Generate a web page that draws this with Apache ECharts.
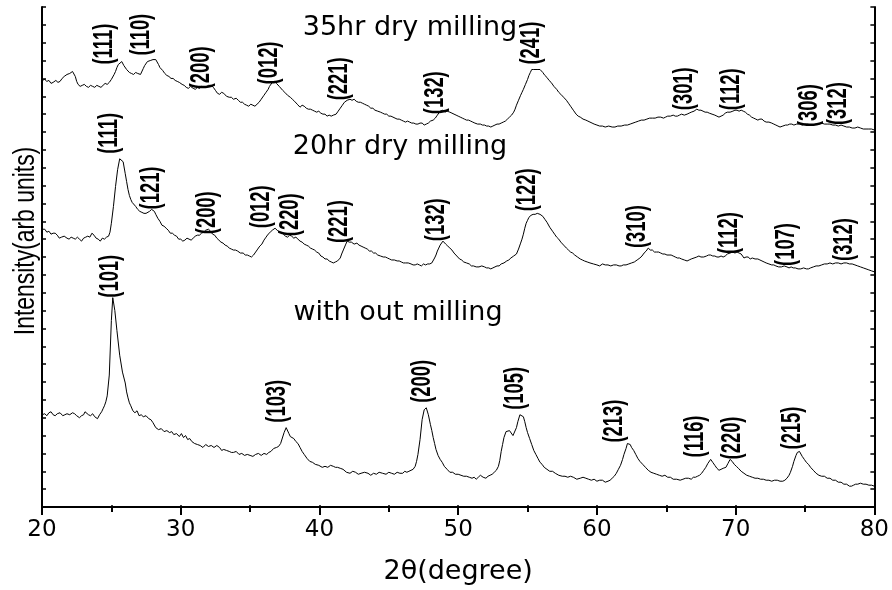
<!DOCTYPE html>
<html>
<head>
<meta charset="utf-8">
<title>XRD milling</title>
<script src="https://cdn.jsdelivr.net/npm/echarts@6/dist/echarts.min.js"></script>
<style>
    html, body { margin: 0; padding: 0; background: #fff; }
    #xrdChart { width: 892px; height: 590px; }
</style>
</head>
<body>
<div id="xrdChart"></div>
<script>
// [2θ, intensity] (arb. units, 0 = bottom of frame)
var noMilling = [
    [20.0,93],[20.1,95],[20.2,94],[20.35,92],[20.5,95],[20.65,96],[20.8,93],[20.95,92],[21.1,94],[21.3,95],
    [21.5,92],[21.65,93],[21.8,94],[22.0,93],[22.2,95],[22.35,94],[22.5,92],[22.6,94],[22.7,90],[22.85,92],
    [23.0,93],[23.1,96],[23.2,95],[23.35,93],[23.5,92],[23.65,94],[23.8,91],[23.9,92],[24.0,89],[24.15,93],
    [24.3,96],[24.4,99],[24.5,102],[24.6,106],[24.7,112],[24.85,133],[25.0,188],[25.1,211],[25.25,198],[25.4,178],
    [25.6,153],[25.8,136],[26.0,125],[26.1,116],[26.2,110],[26.3,105],[26.4,102],[26.55,97],[26.7,95],[26.85,97],
    [27.0,92],[27.15,93],[27.3,91],[27.5,92],[27.7,89],[27.85,88],[28.0,85],[28.2,80],[28.4,78],[28.6,79],
    [28.8,76],[29.0,77],[29.2,75],[29.35,76],[29.5,73],[29.7,74],[29.9,71],[30.05,74],[30.2,70],[30.35,72],
    [30.5,68],[30.65,69],[30.8,66],[31.0,64],[31.2,63],[31.4,62],[31.6,60],[31.8,63],[32.0,61],[32.2,62],
    [32.4,60],[32.6,62],[32.8,60],[32.95,57],[33.1,58],[33.3,57],[33.5,56],[33.65,55],[33.8,55],[34.0,56],
    [34.2,53],[34.4,54],[34.6,52],[34.8,53],[35.0,52],[35.2,51],[35.4,53],[35.6,54],[35.8,52],[36.0,54],
    [36.2,53],[36.35,55],[36.5,56],[36.7,59],[36.9,60],[37.05,61],[37.2,64],[37.45,75],[37.6,80],[37.8,74],
    [37.9,71],[38.0,70],[38.15,69],[38.3,66],[38.45,64],[38.6,60],[38.75,56],[38.9,53],[39.1,49],[39.3,46],
    [39.5,45],[39.7,43],[39.95,42],[40.2,40],[40.4,41],[40.6,40],[40.8,42],[41.0,41],[41.15,40],[41.3,40],
    [41.5,39],[41.7,38],[41.95,35],[42.2,34],[42.4,36],[42.6,35],[42.8,33],[43.0,34],[43.25,35],[43.5,34],
    [43.7,32],[43.9,34],[44.1,33],[44.3,35],[44.55,34],[44.8,33],[45.0,35],[45.2,34],[45.4,33],[45.6,35],
    [45.8,34],[46.0,34],[46.15,36],[46.3,35],[46.45,36],[46.6,37],[46.75,38],[46.9,41],[47.0,46],[47.1,53],
    [47.25,68],[47.4,88],[47.55,98],[47.7,100],[47.85,93],[48.0,83],[48.1,77],[48.2,70],[48.3,64],[48.4,58],
    [48.55,52],[48.7,48],[48.85,45],[49.0,41],[49.2,38],[49.4,35],[49.6,35],[49.8,33],[50.0,33],[50.2,32],
    [50.4,31],[50.6,31],[50.8,30],[51.0,29],[51.15,30],[51.3,28],[51.45,30],[51.6,32],[51.8,30],[52.0,29],
    [52.15,31],[52.3,32],[52.45,33],[52.6,35],[52.75,37],[52.9,41],[53.0,47],[53.1,56],[53.2,63],[53.3,70],
    [53.45,76],[53.55,78],[53.7,77],[53.8,75],[53.95,72],[54.05,73],[54.2,80],[54.3,86],[54.45,93],[54.55,95],
    [54.7,91],[54.8,86],[54.9,80],[55.0,75],[55.15,69],[55.3,63],[55.45,57],[55.6,53],[55.75,49],[55.9,45],
    [56.05,43],[56.2,40],[56.4,38],[56.6,36],[56.8,36],[57.0,34],[57.25,32],[57.5,31],[57.7,31],[57.9,30],
    [58.1,31],[58.3,30],[58.55,28],[58.8,29],[59.0,30],[59.2,29],[59.4,28],[59.6,27],[59.8,28],[60.0,26],
    [60.2,27],[60.4,27],[60.6,25],[60.8,26],[60.95,27],[61.1,29],[61.25,31],[61.4,34],[61.55,38],[61.7,42],
    [61.85,48],[61.95,53],[62.1,59],[62.2,64],[62.3,65],[62.4,63],[62.5,60],[62.65,57],[62.8,53],[62.95,49],
    [63.1,46],[63.3,43],[63.5,40],[63.7,37],[63.9,35],[64.1,34],[64.3,33],[64.5,32],[64.7,31],[64.9,32],
    [65.1,30],[65.3,30],[65.5,28],[65.75,28],[66.0,27],[66.2,28],[66.4,29],[66.6,29],[66.8,28],[66.95,30],
    [67.1,30],[67.25,31],[67.4,32],[67.55,34],[67.7,37],[67.85,40],[68.0,44],[68.1,46],[68.2,48],[68.35,45],
    [68.5,42],[68.65,39],[68.8,37],[68.95,38],[69.1,39],[69.2,39],[69.3,40],[69.45,44],[69.6,48],[69.75,46],
    [69.9,43],[70.05,41],[70.2,39],[70.4,36],[70.6,34],[70.8,32],[71.0,31],[71.2,30],[71.4,29],[71.6,29],
    [71.8,28],[72.0,28],[72.2,27],[72.4,27],[72.6,26],[72.8,27],[73.0,27],[73.2,26],[73.4,26],[73.55,27],
    [73.7,29],[73.85,32],[73.95,35],[74.1,41],[74.2,46],[74.35,52],[74.45,55],[74.6,56],[74.7,54],[74.8,51],
    [74.95,48],[75.1,45],[75.25,43],[75.4,40],[75.6,37],[75.8,34],[76.0,32],[76.2,31],[76.4,31],[76.6,29],
    [76.8,29],[77.0,27],[77.2,27],[77.4,25],[77.6,25],[77.8,23],[78.0,23],[78.2,21],[78.35,21],[78.5,22],
    [78.65,23],[78.8,23],[79.0,24],[79.2,23],[79.4,23],[79.6,22],[79.8,22],[80.0,21]
]
var dryMill20 = [
    [20.0,280],[20.1,281],[20.2,280],[20.35,277],[20.5,278],[20.65,275],[20.8,276],[20.95,276],[21.1,274],[21.25,271],
    [21.4,272],[21.6,273],[21.8,271],[21.95,270],[22.1,272],[22.25,271],[22.4,270],[22.55,272],[22.7,270],[22.85,268],
    [23.0,271],[23.15,272],[23.3,273],[23.45,272],[23.6,276],[23.75,274],[23.9,271],[24.05,270],[24.2,268],[24.35,271],
    [24.5,270],[24.65,272],[24.8,273],[24.9,277],[25.0,286],[25.15,303],[25.3,323],[25.45,340],[25.6,351],[25.7,353],
    [25.85,348],[26.0,336],[26.1,328],[26.2,320],[26.3,314],[26.4,310],[26.5,307],[26.6,305],[26.75,303],[26.9,300],
    [27.05,298],[27.2,297],[27.35,296],[27.5,296],[27.6,298],[27.75,298],[27.9,300],[28.0,300],[28.1,298],[28.2,295],
    [28.35,291],[28.5,288],[28.65,284],[28.8,283],[28.95,281],[29.1,279],[29.25,276],[29.4,276],[29.55,274],[29.7,273],
    [29.85,270],[30.0,270],[30.15,268],[30.3,269],[30.45,271],[30.6,270],[30.75,269],[30.9,271],[31.05,273],[31.2,274],
    [31.35,274],[31.5,276],[31.65,277],[31.8,279],[31.9,279],[32.0,280],[32.15,278],[32.3,275],[32.45,274],[32.6,271],
    [32.75,269],[32.9,267],[33.05,266],[33.2,264],[33.35,263],[33.5,261],[33.65,260],[33.8,259],[33.95,259],[34.1,258],
    [34.3,256],[34.5,256],[34.65,254],[34.8,254],[34.95,253],[35.1,252],[35.25,254],[35.4,257],[35.55,260],[35.7,263],
    [35.85,265],[36.0,269],[36.15,272],[36.3,275],[36.45,277],[36.6,279],[36.7,280],[36.8,281],[36.95,279],[37.1,277],
    [37.25,277],[37.4,275],[37.55,273],[37.7,272],[37.85,274],[38.0,273],[38.15,271],[38.3,272],[38.45,270],[38.6,268],
    [38.75,267],[38.9,265],[39.05,264],[39.2,263],[39.35,261],[39.5,260],[39.65,259],[39.8,257],[39.95,256],[40.1,253],
    [40.25,252],[40.4,250],[40.55,250],[40.7,248],[40.85,247],[41.0,246],[41.15,247],[41.3,248],[41.4,249],[41.5,251],
    [41.6,255],[41.75,260],[41.9,265],[42.0,268],[42.15,267],[42.3,267],[42.5,265],[42.7,266],[42.85,264],[43.0,263],
    [43.15,262],[43.3,261],[43.45,260],[43.6,258],[43.75,258],[43.9,256],[44.05,256],[44.2,254],[44.4,253],[44.6,252],
    [44.75,252],[44.9,251],[45.05,250],[45.2,249],[45.4,249],[45.6,248],[45.75,248],[45.9,247],[46.05,246],[46.2,246],
    [46.4,246],[46.6,245],[46.75,244],[46.9,244],[47.05,245],[47.2,244],[47.35,243],[47.5,245],[47.65,244],[47.8,245],
    [47.95,245],[48.1,246],[48.2,248],[48.3,251],[48.4,254],[48.5,258],[48.6,261],[48.7,264],[48.8,266],[48.9,268],
    [49.0,267],[49.1,265],[49.25,263],[49.4,261],[49.55,259],[49.7,256],[49.9,253],[50.1,250],[50.25,249],[50.4,247],
    [50.6,246],[50.8,245],[50.95,243],[51.1,243],[51.3,242],[51.5,242],[51.7,243],[51.9,242],[52.05,241],[52.2,241],
    [52.35,240],[52.5,241],[52.65,242],[52.8,243],[52.95,243],[53.1,245],[53.3,246],[53.5,248],[53.65,249],[53.8,251],
    [54.0,253],[54.2,255],[54.35,260],[54.5,266],[54.6,270],[54.7,275],[54.8,281],[54.9,286],[55.0,289],[55.1,292],
    [55.25,294],[55.4,295],[55.55,295],[55.7,296],[55.8,295],[55.9,295],[56.0,294],[56.1,293],[56.25,290],[56.4,287],
    [56.6,282],[56.8,278],[56.95,275],[57.1,272],[57.25,270],[57.4,267],[57.6,264],[57.8,261],[57.95,259],[58.1,257],
    [58.25,256],[58.4,254],[58.6,252],[58.8,250],[58.95,249],[59.1,248],[59.3,247],[59.5,246],[59.75,245],[60.0,244],
    [60.2,243],[60.4,245],[60.6,244],[60.8,244],[61.0,243],[61.2,244],[61.4,244],[61.6,243],[61.75,243],[61.9,244],
    [62.1,244],[62.3,245],[62.5,246],[62.7,247],[62.9,249],[63.1,251],[63.25,253],[63.4,256],[63.55,258],[63.7,261],
    [63.85,259],[64.0,259],[64.15,257],[64.3,257],[64.45,257],[64.6,256],[64.75,255],[64.9,255],[65.05,254],[65.2,254],
    [65.35,254],[65.5,253],[65.65,252],[65.8,251],[65.95,251],[66.1,250],[66.3,249],[66.5,248],[66.65,249],[66.8,250],
    [67.0,251],[67.2,252],[67.35,253],[67.5,252],[67.7,252],[67.9,253],[68.05,254],[68.2,254],[68.35,253],[68.5,253],
    [68.65,252],[68.8,252],[68.95,253],[69.1,252],[69.25,253],[69.4,255],[69.6,256],[69.8,257],[69.95,256],[70.1,257],
    [70.25,256],[70.4,255],[70.5,253],[70.6,251],[70.75,252],[70.9,252],[71.05,250],[71.2,251],[71.4,250],[71.6,250],
    [71.75,249],[71.9,248],[72.05,247],[72.2,246],[72.4,245],[72.6,244],[72.75,244],[72.9,243],[73.1,242],[73.3,242],
    [73.5,243],[73.7,242],[73.85,241],[74.0,242],[74.15,241],[74.3,241],[74.5,240],[74.7,240],[74.9,241],[75.1,240],
    [75.25,240],[75.4,241],[75.6,242],[75.8,243],[76.0,243],[76.2,244],[76.4,245],[76.6,245],[76.8,246],[77.0,245],
    [77.2,246],[77.4,246],[77.6,245],[77.8,246],[78.0,246],[78.2,245],[78.4,245],[78.6,244],[78.8,243],[79.0,242],
    [79.2,241],[79.4,240],[79.6,239],[79.8,238],[80.0,237]
]
var dryMill35 = [
    [20.0,430],[20.1,432],[20.2,431],[20.35,429],[20.5,430],[20.65,427],[20.8,428],[20.9,430],[21.0,430],[21.15,428],
    [21.3,429],[21.45,432],[21.6,434],[21.7,433],[21.8,436],[21.9,435],[22.0,437],[22.1,436],[22.2,439],[22.3,437],
    [22.4,434],[22.5,429],[22.6,426],[22.75,424],[22.9,425],[23.05,426],[23.2,424],[23.35,423],[23.5,425],[23.65,424],
    [23.8,423],[23.95,425],[24.1,424],[24.25,423],[24.4,425],[24.55,427],[24.7,426],[24.85,428],[25.0,431],[25.1,433],
    [25.2,436],[25.3,439],[25.4,443],[25.5,446],[25.6,448],[25.75,449],[25.9,445],[26.0,443],[26.1,441],[26.2,439],
    [26.3,438],[26.45,437],[26.6,436],[26.75,438],[26.9,437],[27.0,435],[27.1,436],[27.2,438],[27.3,442],[27.4,445],
    [27.5,447],[27.6,449],[27.7,451],[27.8,450],[27.9,452],[28.0,451],[28.1,453],[28.2,451],[28.3,449],[28.4,446],
    [28.5,443],[28.6,441],[28.7,440],[28.85,437],[29.0,435],[29.15,434],[29.3,432],[29.45,432],[29.6,430],[29.75,429],
    [29.9,428],[30.0,427],[30.1,426],[30.25,425],[30.4,423],[30.55,422],[30.7,424],[30.8,423],[30.9,422],[31.05,421],
    [31.2,423],[31.35,422],[31.5,424],[31.65,423],[31.8,423],[31.9,424],[32.0,425],[32.1,426],[32.2,425],[32.35,423],
    [32.5,420],[32.65,417],[32.8,416],[32.95,418],[33.1,417],[33.3,414],[33.5,413],[33.65,413],[33.8,411],[33.9,413],
    [34.0,412],[34.15,410],[34.3,408],[34.45,408],[34.6,406],[34.75,405],[34.9,404],[35.05,406],[35.2,405],[35.35,404],
    [35.5,406],[35.65,408],[35.8,411],[35.9,413],[36.0,415],[36.15,418],[36.3,421],[36.4,424],[36.5,426],[36.6,428],
    [36.75,429],[36.9,427],[37.0,425],[37.1,424],[37.2,422],[37.35,420],[37.5,418],[37.7,415],[37.9,413],[38.05,411],
    [38.2,409],[38.4,406],[38.6,403],[38.75,405],[38.9,404],[39.05,402],[39.2,401],[39.35,401],[39.5,400],[39.65,399],
    [39.8,398],[39.95,399],[40.1,397],[40.25,396],[40.4,396],[40.55,394],[40.7,395],[40.85,394],[41.0,395],[41.1,396],
    [41.2,396],[41.35,399],[41.5,402],[41.65,405],[41.8,408],[41.9,409],[42.0,410],[42.1,409],[42.2,411],[42.35,410],
    [42.5,411],[42.65,409],[42.8,408],[42.95,408],[43.1,407],[43.25,406],[43.4,405],[43.55,404],[43.7,402],[43.85,402],
    [44.0,400],[44.2,399],[44.4,398],[44.55,397],[44.7,396],[44.85,396],[45.0,394],[45.15,394],[45.3,393],[45.45,392],
    [45.6,391],[45.75,391],[45.9,390],[46.05,389],[46.2,388],[46.35,389],[46.5,388],[46.65,387],[46.8,387],[46.95,386],
    [47.1,386],[47.25,387],[47.4,387],[47.55,385],[47.7,386],[47.85,387],[48.0,389],[48.1,389],[48.2,390],[48.35,392],
    [48.5,395],[48.6,397],[48.7,399],[48.8,400],[48.9,400],[49.05,398],[49.2,399],[49.3,398],[49.4,398],[49.55,397],
    [49.7,396],[49.85,395],[50.0,394],[50.15,393],[50.3,392],[50.45,391],[50.6,390],[50.75,390],[50.9,389],[51.05,388],
    [51.2,387],[51.4,386],[51.6,386],[51.75,385],[51.9,385],[52.05,384],[52.2,384],[52.35,383],[52.5,384],[52.65,385],
    [52.8,386],[52.95,386],[53.1,387],[53.25,388],[53.4,389],[53.55,391],[53.7,393],[53.85,395],[54.0,398],[54.1,401],
    [54.2,405],[54.35,410],[54.5,415],[54.6,418],[54.7,421],[54.85,426],[55.0,431],[55.1,435],[55.2,438],[55.3,441],
    [55.35,442],[55.45,441],[55.55,442],[55.6,442],[55.75,441],[55.9,441],[56.0,439],[56.1,438],[56.25,435],[56.4,433],
    [56.55,430],[56.7,428],[56.9,424],[57.1,421],[57.25,418],[57.4,416],[57.6,413],[57.8,410],[57.95,407],[58.1,404],
    [58.3,400],[58.5,396],[58.65,394],[58.8,393],[59.0,391],[59.2,390],[59.35,389],[59.5,388],[59.65,387],[59.8,386],
    [60.0,385],[60.2,384],[60.4,384],[60.6,383],[60.85,384],[61.1,383],[61.3,383],[61.5,384],[61.75,384],[62.0,385],
    [62.2,385],[62.4,386],[62.6,387],[62.8,388],[63.0,389],[63.2,390],[63.4,390],[63.6,391],[63.8,392],[64.0,392],
    [64.2,392],[64.4,393],[64.6,393],[64.8,392],[64.95,393],[65.1,394],[65.3,394],[65.5,395],[65.65,394],[65.8,394],
    [65.95,395],[66.1,396],[66.3,395],[66.5,396],[66.65,397],[66.8,398],[67.0,399],[67.2,401],[67.35,400],[67.5,400],
    [67.65,399],[67.8,398],[67.95,398],[68.1,397],[68.3,396],[68.5,395],[68.65,394],[68.8,393],[68.95,394],[69.1,395],
    [69.25,397],[69.4,398],[69.6,398],[69.8,399],[69.95,400],[70.1,400],[70.25,399],[70.4,400],[70.55,399],[70.7,398],
    [70.85,396],[71.0,395],[71.15,393],[71.3,392],[71.45,391],[71.6,390],[71.75,391],[71.9,391],[72.05,389],[72.2,388],
    [72.4,388],[72.6,387],[72.75,386],[72.9,385],[73.05,384],[73.2,383],[73.4,384],[73.6,385],[73.75,385],[73.9,386],
    [74.05,386],[74.2,385],[74.4,386],[74.6,386],[74.8,385],[75.0,386],[75.2,386],[75.4,385],[75.6,385],[75.8,386],
    [76.0,386],[76.2,387],[76.4,386],[76.6,386],[76.8,386],[77.0,385],[77.2,385],[77.4,384],[77.6,385],[77.8,384],
    [78.0,383],[78.2,383],[78.4,382],[78.6,382],[78.8,383],[79.0,382],[79.2,381],[79.4,381],[79.6,381],[79.8,381],
    [80.0,380]
]

// (hkl) marks: [2θ, intensity at the foot of the label, text]
var noMillingHkl = [
    [24.97,211,'(101)'],[37.0,85,'(103)'],[47.45,105,'(200)'],[54.15,98,'(105)'],
    [61.28,65,'(213)'],[67.12,50,'(116)'],[69.78,48,'(220)'],[74.11,58,'(215)']
]
var dryMill20Hkl = [
    [24.9,356,'(111)'],[27.93,300,'(121)'],[31.96,275,'(200)'],[35.85,281,'(012)'],
    [37.94,273,'(220)'],[41.47,266,'(221)'],[48.46,268,'(132)'],[55.01,298,'(122)'],
    [62.94,261,'(310)'],[69.57,255,'(112)'],[73.67,243,'(107)'],[77.85,248,'(312)']
]
var dryMill35Hkl = [
    [24.54,446,'(111)'],[27.2,455,'(110)'],[31.53,421,'(200)'],[36.43,426,'(012)'],
    [41.47,410,'(221)'],[48.39,396,'(132)'],[55.3,446,'(241)'],[66.33,400,'(301)'],
    [69.71,400,'(112)'],[75.33,383,'(306)'],[77.42,385,'(312)']
]

var sampleNames = ['with out milling', '20hr dry milling', '35hr dry milling']

;(function () {
    var chart = echarts.init(document.getElementById('xrdChart'))
    var hFont = 'DejaVu Sans' // horizontal text in the picture is wide
    var vFont = 'Liberation Sans' // rotated text is squeezed, done with scaleX

    var traceStyle = function (data) { // one XRD pattern
        return {
            type: 'line',
            data: data,
            showSymbol: false,
            symbol: 'none',
            silent: true,
            lineStyle: { color: '#000', width: 1 },
        }
    }

    var sampleTitle = function (name, x, y) { // text over each pattern
        return {
            type: 'text',
            x: x,
            y: y,
            style: {
                text: name,
                fontFamily: hFont,
                fontSize: 27,
                fill: '#000',
                align: 'center',
                verticalAlign: 'middle',
            },
        }
    }

    var hklMarks = noMillingHkl.concat(dryMill20Hkl, dryMill35Hkl)

    var sideAxis = { // frame lines on top / right
        show: true,
        lineStyle: { color: '#000', width: 2 },
    }

    var option = {
        animation: false,
        backgroundColor: '#fff',
        grid: { left: 42, right: 17, top: 7, bottom: 82 },
        xAxis: [
            {
                type: 'value',
                min: 20,
                max: 80,
                interval: 10,
                name: '2θ(degree)',
                nameLocation: 'middle',
                nameGap: 51,
                nameTextStyle: { fontFamily: hFont, fontSize: 27, color: '#000' },
                axisLine: { show: true, onZero: false, lineStyle: { color: '#000', width: 2 } },
                axisTick: { inside: false, length: 8, lineStyle: { color: '#000', width: 2 } },
                minorTick: { show: true, splitNumber: 2, length: 5, lineStyle: { color: '#000', width: 2 } },
                axisLabel: { margin: 12, fontFamily: hFont, fontSize: 23, color: '#000' },
                splitLine: { show: false },
            },
            {
                type: 'value',
                position: 'top',
                min: 20,
                max: 80,
                interval: 5,
                axisLine: sideAxis,
                axisTick: { inside: false, length: 2, lineStyle: { color: '#000', width: 1.5 } },
                axisLabel: { show: false },
                splitLine: { show: false },
            },
        ],
        yAxis: [
            {
                type: 'value',
                min: 0,
                max: 504,
                interval: 18,
                axisLine: { show: true, lineStyle: { color: '#000', width: 2 } },
                axisTick: { inside: true, length: 4, lineStyle: { color: '#000', width: 1.5 } },
                axisLabel: { show: false },
                splitLine: { show: false },
            },
            {
                type: 'value',
                position: 'right',
                min: 0,
                max: 504,
                interval: 18,
                axisLine: sideAxis,
                axisTick: { inside: true, length: 4, lineStyle: { color: '#000', width: 1.5 } },
                axisLabel: { show: false },
                splitLine: { show: false },
            },
        ],
        graphic: [
            { // y axis title, squeezed like the original
                type: 'text',
                x: 26,
                y: 241,
                rotation: Math.PI / 2,
                scaleX: 0.79,
                style: {
                    text: 'Intensity(arb units)',
                    fontFamily: vFont,
                    fontSize: 29,
                    fill: '#000',
                    align: 'center',
                    verticalAlign: 'middle',
                },
            },
            sampleTitle(sampleNames[2], 410, 28),
            sampleTitle(sampleNames[1], 400, 147),
            sampleTitle(sampleNames[0], 398, 313),
        ],
        series: [
            traceStyle(noMilling),
            traceStyle(dryMill20),
            traceStyle(dryMill35),
            { // (hkl) labels standing upright over the peaks
                type: 'custom',
                data: hklMarks,
                encode: { x: 0, y: 1 },
                silent: true,
                clip: false,
                renderItem: function (params, api) {
                    var pt = api.coord([api.value(0), api.value(1)])
                    return {
                        type: 'text',
                        x: pt[0],
                        y: pt[1],
                        rotation: Math.PI / 2,
                        scaleX: 0.68,
                        style: {
                            text: hklMarks[params.dataIndex][2],
                            fontFamily: vFont,
                            fontWeight: 'bold',
                            fontSize: 27,
                            fill: '#000',
                            align: 'left',
                            verticalAlign: 'middle',
                        },
                    }
                },
            },
        ],
    }

    chart.setOption(option)
}())
</script>
</body>
</html>
